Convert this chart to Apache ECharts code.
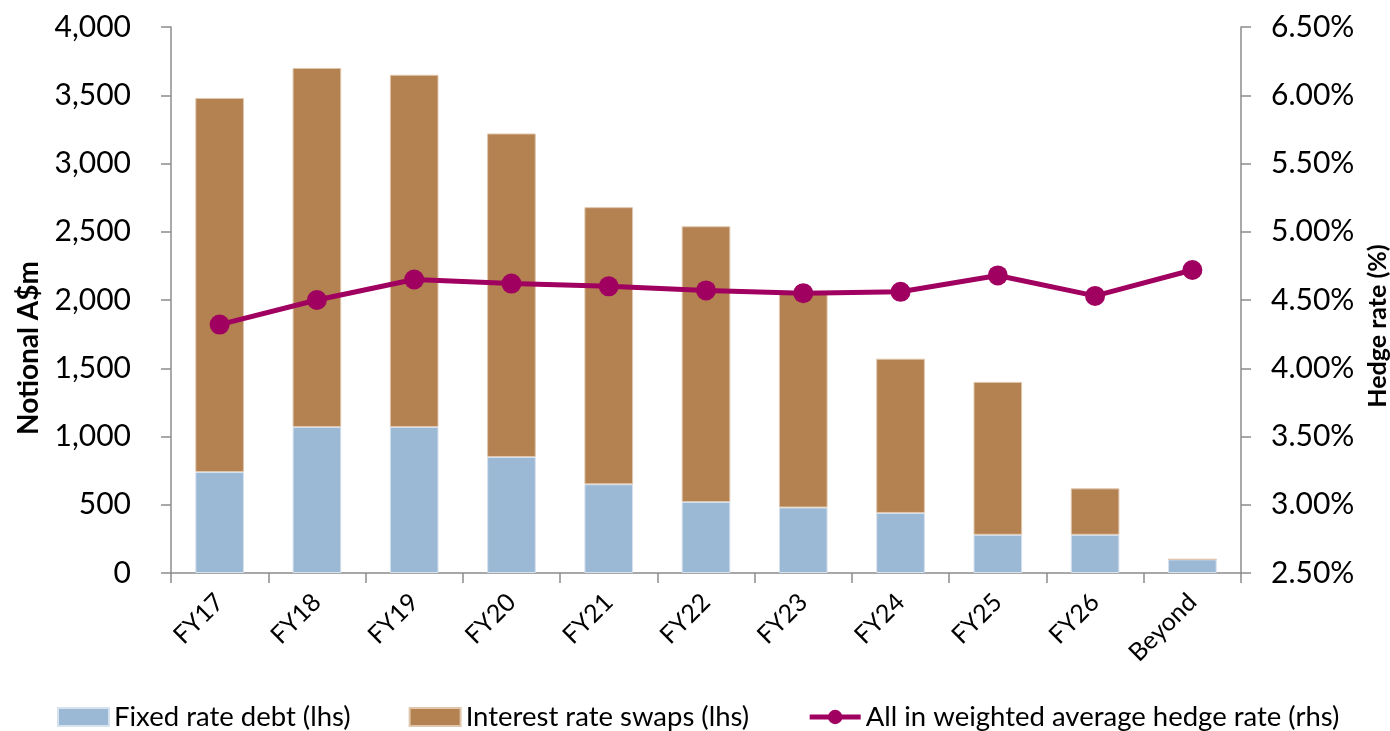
<!DOCTYPE html>
<html>
<head>
<meta charset="utf-8">
<script src="https://cdn.jsdelivr.net/npm/echarts@6/dist/echarts.min.js"></script>
<style>
	html, body { margin: 0; padding: 0; background: #fff; }
	#chart { width: 1390px; height: 731px; }
</style>
</head>
<body>
<div id="chart"></div>
<script>
// Maturity profile data
const categories = ['FY17', 'FY18', 'FY19', 'FY20', 'FY21', 'FY22', 'FY23', 'FY24', 'FY25', 'FY26', 'Beyond'];
const fixedRateDebt = [740, 1070, 1070, 850, 650, 520, 480, 440, 280, 280, 100];
const interestRateSwaps = [2740, 2630, 2580, 2370, 2030, 2020, 1570, 1130, 1120, 340, 0];
const hedgeRate = [4.32, 4.50, 4.65, 4.62, 4.60, 4.57, 4.55, 4.56, 4.68, 4.53, 4.72];

const leftTicks = { min: 0, max: 4000, interval: 500 };
const rightTicks = { min: 2.5, max: 6.5, interval: 0.5 };

const font = 'Lato, "Open Sans", sans-serif';
const axisGrey = '#8c8c8c';
const hedgeColor = '#a0005f';

let myChart = echarts.init(document.getElementById('chart'), null, { renderer: 'canvas' });

myChart.setOption({
	animation: false,
	textStyle: { fontFamily: font, color: '#000' },
	grid: { left: 171, right: 149, top: 27, bottom: 158, outerBoundsMode: 'none', containLabel: false },
	legend: {
		left: 57,
		top: 703,
		padding: 0,
		itemWidth: 51,
		itemHeight: 18,
		itemGap: 58,
		textStyle: { fontFamily: font, fontSize: 27.5, color: '#000' },
		data: [
			{ name: 'Fixed rate debt (lhs)', icon: 'rect' },
			{ name: 'Interest rate swaps (lhs)', icon: 'rect' },
			{ name: 'All in weighted average hedge rate (rhs)', lineStyle: { width: 5, color: hedgeColor } }
		]
	},
	xAxis: {
		type: 'category',
		data: categories,
		axisLine: { lineStyle: { color: axisGrey, width: 1.5 } },
		axisTick: { show: true, alignWithLabel: false, length: 10, lineStyle: { color: axisGrey, width: 1.5 } },
		axisLabel: { rotate: 45, margin: 25, fontSize: 25, color: '#000', fontFamily: font }
	},
	yAxis: [
		{
			type: 'value',
			min: leftTicks.min,
			max: leftTicks.max,
			interval: leftTicks.interval,
			name: 'Notional A$m',
			nameLocation: 'middle',
			nameGap: 128,
			nameRotate: 90,
			// right padding pushes the rotated title down like in the source
			nameTextStyle: { fontSize: 28, fontWeight: 'bold', color: '#000', fontFamily: font, padding: [0, 96, 0, 0] },
			splitLine: { show: false },
			axisLine: { show: true, lineStyle: { color: axisGrey, width: 1.5 } },
			axisTick: { show: true, length: 10, lineStyle: { color: axisGrey, width: 1.5 } },
			axisLabel: {
				margin: 40,
				fontSize: 30,
				color: '#000',
				fontFamily: font,
				formatter: function (v) { return v.toLocaleString('en-US'); }
			}
		},
		{
			type: 'value',
			min: rightTicks.min,
			max: rightTicks.max,
			interval: rightTicks.interval,
			name: 'Hedge rate (%)',
			nameLocation: 'middle',
			nameGap: 121,
			nameRotate: 90,
			nameTextStyle: { fontSize: 25, fontWeight: 'bold', color: '#000', fontFamily: font, padding: [0, 52, 0, 0] },
			splitLine: { show: false },
			axisLine: { show: true, lineStyle: { color: axisGrey, width: 1.5 } },
			axisTick: { show: true, length: 10, lineStyle: { color: axisGrey, width: 1.5 } },
			axisLabel: {
				margin: 30,
				fontSize: 30,
				color: '#000',
				fontFamily: font,
				formatter: function (v) { return v.toFixed(2) + '%'; }
			}
		}
	],
	series: [
		{
			name: 'Fixed rate debt (lhs)',
			type: 'bar',
			stack: 'notional',
			barWidth: '50%',
			itemStyle: { color: '#9bb8d4', borderColor: '#d6e2ee', borderWidth: 1 },
			data: fixedRateDebt
		},
		{
			name: 'Interest rate swaps (lhs)',
			type: 'bar',
			stack: 'notional',
			barWidth: '50%',
			itemStyle: { color: '#b48150', borderColor: '#e0c6ad', borderWidth: 1 },
			data: interestRateSwaps
		},
		{
			name: 'All in weighted average hedge rate (rhs)',
			type: 'line',
			yAxisIndex: 1,
			symbol: 'circle',
			symbolSize: 20,
			lineStyle: { color: hedgeColor, width: 5 },
			itemStyle: { color: hedgeColor },
			data: hedgeRate
		}
	]
});
</script>
</body>
</html>
